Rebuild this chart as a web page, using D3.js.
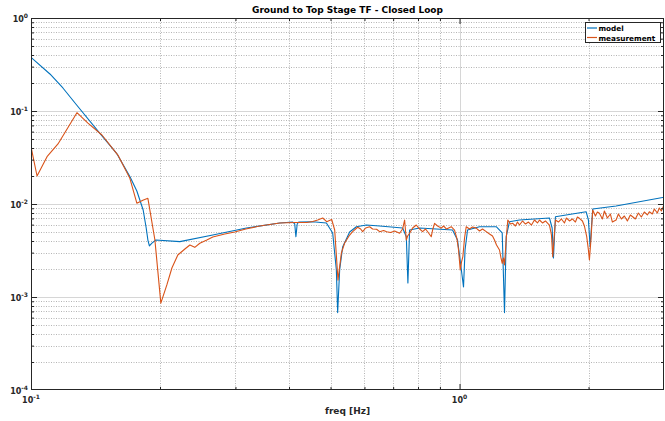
<!DOCTYPE html>
<html>
<head>
<meta charset="utf-8">
<script src="https://cdn.jsdelivr.net/npm/d3@7"></script>
<style>
  body { margin: 0; background: #fff; }
  svg { font-family: "DejaVu Sans", sans-serif; }
</style>
</head>
<body>
<svg id="chart" width="665" height="421"></svg>
<script>
// model (blue) - frequency [Hz] and magnitude
var freqModel = [0.100, 0.1107, 0.1187, 0.1278, 0.1448, 0.1584, 0.1701, 0.1766, 0.1827, 0.1857,
  0.1874, 0.1889, 0.1915, 0.1956, 0.2225, 0.2656, 0.3183, 0.3806, 0.4081, 0.4125,
  0.4151, 0.4180, 0.4214, 0.4543, 0.4890, 0.5058, 0.5159, 0.5195, 0.5251, 0.5336,
  0.5541, 0.5744, 0.6061, 0.6509, 0.7364, 0.7513, 0.7577, 0.7647, 0.8068, 0.8824,
  0.9631, 0.9893, 1.0146, 1.0216, 1.0300, 1.0439, 1.1134, 1.2178, 1.2577, 1.2733,
  1.2850, 1.3078, 1.3800, 1.6212, 1.6447, 1.6563, 1.6741, 1.7731, 1.9740, 1.9987,
  2.0170, 2.0455, 2.3191, 3.0];
var magModel = [0.378, 0.250, 0.1768, 0.116, 0.0576, 0.0351, 0.0197, 0.0138, 0.00862, 0.00552,
  0.0041, 0.00354, 0.0038, 0.0041, 0.00394, 0.00464, 0.00552, 0.00625, 0.0064, 0.0061,
  0.00445, 0.0061, 0.0064, 0.00645, 0.00625, 0.00488, 0.00195, 0.00068, 0.00195, 0.00345,
  0.0050, 0.0057, 0.00594, 0.0058, 0.00552, 0.00445, 0.001414, 0.00525, 0.00552, 0.00538,
  0.00525, 0.0041, 0.00165, 0.00128, 0.0032, 0.00525, 0.0057, 0.0057, 0.00488, 0.00068,
  0.00445, 0.00645, 0.00673, 0.00707, 0.00552, 0.00263, 0.0073, 0.00762, 0.00826, 0.00673,
  0.00347, 0.00884, 0.0095, 0.0118];

// measurement (orange)
var freqMeas = [0.1000, 0.1033, 0.1090, 0.1156, 0.1280, 0.1358, 0.1464, 0.1595, 0.1701, 0.1766,
  0.1824, 0.1874, 0.1946, 0.2009, 0.2075, 0.2132, 0.2201, 0.2286, 0.2348, 0.2411,
  0.2477, 0.2572, 0.2656, 0.2833, 0.2989, 0.3171, 0.3418, 0.3806, 0.4125, 0.4399,
  0.4543, 0.4667, 0.4794, 0.4898, 0.5031, 0.5113, 0.5204, 0.5300, 0.5394, 0.5541,
  0.5631, 0.5784, 0.5878, 0.5941, 0.6038, 0.6169, 0.6269, 0.6405, 0.6509, 0.6651,
  0.6759, 0.6905, 0.7055, 0.7247, 0.7364, 0.7444, 0.7513, 0.7565, 0.7647, 0.7771,
  0.7927, 0.8025, 0.8199, 0.8332, 0.8468, 0.8591, 0.8652, 0.8745, 0.8887, 0.9064,
  0.9178, 0.9326, 0.9564, 0.9735, 0.9857, 0.9947, 1.0038, 1.0109, 1.0180, 1.0273,
  1.0367, 1.0552, 1.0723, 1.0939, 1.1134, 1.1315, 1.1542, 1.1748, 1.1939, 1.2067,
  1.2198, 1.2396, 1.2496, 1.2577, 1.2665, 1.2733, 1.2802, 1.2871, 1.2961, 1.3150,
  1.3313, 1.3507, 1.3653, 1.3800, 1.4024, 1.4252, 1.4484, 1.4719, 1.4957, 1.5200,
  1.5365, 1.5614, 1.5868, 1.6125, 1.6212, 1.6387, 1.6500, 1.6608, 1.6741, 1.7013,
  1.7289, 1.7570, 1.7760, 1.8049, 1.8341, 1.8639, 1.8840, 1.9044, 1.9353, 1.9562,
  1.9806, 1.9987, 2.0094, 2.0257, 2.0455, 2.0752, 2.0977, 2.1204, 2.1548, 2.1780,
  2.2133, 2.2492, 2.2736, 2.3191, 2.3480, 2.3861, 2.4248, 2.4641, 2.5040, 2.5350,
  2.5720, 2.6137, 2.6561, 2.6992, 2.7430, 2.7728, 2.8178, 2.8481, 2.8943, 2.9254,
  2.9571, 3.0];
var magMeas = [0.0413, 0.0200, 0.0323, 0.0442, 0.0959, 0.0741, 0.0552, 0.0336, 0.0189, 0.0102,
  0.0110, 0.0115, 0.0041, 0.00086, 0.00135, 0.00205, 0.00283, 0.00328, 0.00362, 0.00342,
  0.00378, 0.0041, 0.00442, 0.00476, 0.0050, 0.00538, 0.0058, 0.00625, 0.00632, 0.00632,
  0.00648, 0.00673, 0.00707, 0.00645, 0.00681, 0.00525, 0.00152, 0.00297, 0.00381, 0.00464,
  0.00504, 0.00562, 0.00538, 0.00504, 0.00552, 0.0057, 0.00538, 0.00535, 0.00504, 0.00519,
  0.00504, 0.00494, 0.00513, 0.00484, 0.00538, 0.00673, 0.0041, 0.00453, 0.00484, 0.00552,
  0.00594, 0.00552, 0.00504, 0.00538, 0.00488, 0.00445, 0.00525, 0.0062, 0.0058, 0.0055,
  0.0058, 0.00538, 0.0057, 0.00525, 0.00428, 0.0032, 0.00195, 0.00238, 0.00271, 0.00431,
  0.0057, 0.00538, 0.00566, 0.0055, 0.00513, 0.00538, 0.00504, 0.00476, 0.00453, 0.0041,
  0.00362, 0.0032, 0.00263, 0.0023, 0.00263, 0.00221, 0.0032, 0.00464, 0.00673, 0.00609,
  0.0062, 0.0058, 0.0064, 0.00594, 0.00657, 0.00609, 0.0064, 0.00594, 0.00673, 0.00625,
  0.00673, 0.00625, 0.00657, 0.00609, 0.00594, 0.00464, 0.00271, 0.0041, 0.00673, 0.0064,
  0.0069, 0.00625, 0.00707, 0.00657, 0.0069, 0.0064, 0.00725, 0.00702, 0.00657, 0.0058,
  0.00445, 0.0032, 0.0025, 0.0041, 0.00862, 0.00743, 0.0082, 0.00794, 0.0069, 0.00841,
  0.00707, 0.0078, 0.0064, 0.00673, 0.0078, 0.0069, 0.00743, 0.00657, 0.00762, 0.0073,
  0.0069, 0.008, 0.00725, 0.0082, 0.00762, 0.00826, 0.0078, 0.00884, 0.008, 0.00906,
  0.00841, 0.00975];

var xTickValues = [0.1, 1];
var yTickValues = [1e-4, 1e-3, 1e-2, 1e-1, 1];
var seriesNames = ["model", "measurement"];
var seriesColors = ["#0072BD", "#D95319"];

var width = 665;
var height = 421;
var plotLeft = 31, plotRight = 664, plotTop = 18, plotBottom = 390;

var svg = d3.select("#chart");

var xScale = d3.scaleLog().domain([0.1, 3]).range([plotLeft, plotRight]);
var yScale = d3.scaleLog().domain([1e-4, 1]).range([plotBottom, plotTop]);

function isDecade(d) {
  var l = Math.log10(d);
  return Math.abs(l - Math.round(l)) < 1e-9;
}

var xMinor = xScale.ticks().filter(d => !isDecade(d) && d < 3);
var yMinor = yScale.ticks().filter(d => !isDecade(d));
var xMajorInner = xTickValues.filter(d => d > 0.1 && d < 3);
var yMajorInner = yTickValues.filter(d => d > 1e-4 && d < 1);

// grid
var grid = svg.append("g");
grid.selectAll(".vmin").data(xMinor).join("line")
    .attr("x1", d => Math.round(xScale(d)) + 0.5).attr("x2", d => Math.round(xScale(d)) + 0.5)
    .attr("y1", plotTop).attr("y2", plotBottom)
    .attr("stroke", "#b5b5b5").attr("stroke-dasharray", "1,1.5");
grid.selectAll(".hmin").data(yMinor).join("line")
    .attr("y1", d => Math.round(yScale(d)) + 0.5).attr("y2", d => Math.round(yScale(d)) + 0.5)
    .attr("x1", plotLeft).attr("x2", plotRight)
    .attr("stroke", "#b5b5b5").attr("stroke-dasharray", "1,1.5");
grid.selectAll(".vmaj").data(xMajorInner).join("line")
    .attr("x1", d => Math.round(xScale(d)) + 0.5).attr("x2", d => Math.round(xScale(d)) + 0.5)
    .attr("y1", plotTop).attr("y2", plotBottom)
    .attr("stroke", "#d6d6d6");
grid.selectAll(".hmaj").data(yMajorInner).join("line")
    .attr("y1", d => Math.round(yScale(d)) + 0.5).attr("y2", d => Math.round(yScale(d)) + 0.5)
    .attr("x1", plotLeft).attr("x2", plotRight)
    .attr("stroke", "#d6d6d6");

// data
svg.append("clipPath").attr("id", "clip")
  .append("rect").attr("x", plotLeft).attr("y", plotTop)
  .attr("width", plotRight - plotLeft).attr("height", plotBottom - plotTop);

var line = d3.line()
    .x(d => xScale(d[0]))
    .y(d => yScale(d[1]));

var series = [d3.zip(freqModel, magModel), d3.zip(freqMeas, magMeas)];

svg.append("g").attr("clip-path", "url(#clip)")
  .selectAll("path")
  .data(series)
  .join("path")
    .attr("d", line)
    .attr("fill", "none")
    .attr("stroke", (d, i) => seriesColors[i])
    .attr("stroke-width", 1.1)
    .attr("stroke-linejoin", "round");

// axes (ticks inward on all four sides)
var axisColor = "#262626";
function styleAxis(g) {
  g.select(".domain").remove();
  g.selectAll(".tick line").attr("stroke", axisColor);
  g.selectAll(".tick text").remove();
}
svg.append("g").attr("transform", "translate(0," + plotBottom + ")")
  .call(d3.axisBottom(xScale).tickValues(xMinor).tickSize(-3)).call(styleAxis);
svg.append("g").attr("transform", "translate(0," + plotBottom + ")")
  .call(d3.axisBottom(xScale).tickValues(xMajorInner).tickSize(-6)).call(styleAxis);
svg.append("g").attr("transform", "translate(0," + plotTop + ")")
  .call(d3.axisTop(xScale).tickValues(xMinor).tickSize(-3)).call(styleAxis);
svg.append("g").attr("transform", "translate(0," + plotTop + ")")
  .call(d3.axisTop(xScale).tickValues(xMajorInner).tickSize(-6)).call(styleAxis);
svg.append("g").attr("transform", "translate(" + plotLeft + ",0)")
  .call(d3.axisLeft(yScale).tickValues(yMinor).tickSize(-3)).call(styleAxis);
svg.append("g").attr("transform", "translate(" + plotLeft + ",0)")
  .call(d3.axisLeft(yScale).tickValues(yMajorInner).tickSize(-6)).call(styleAxis);
svg.append("g").attr("transform", "translate(" + plotRight + ",0)")
  .call(d3.axisRight(yScale).tickValues(yMinor).tickSize(-3)).call(styleAxis);
svg.append("g").attr("transform", "translate(" + plotRight + ",0)")
  .call(d3.axisRight(yScale).tickValues(yMajorInner).tickSize(-6)).call(styleAxis);

svg.append("rect")
  .attr("x", plotLeft + 0.5).attr("y", plotTop + 0.5)
  .attr("width", plotRight - plotLeft - 1).attr("height", plotBottom - plotTop - 1)
  .attr("fill", "none").attr("stroke", axisColor);

// tick labels  10^n
function powLabel(sel, d) {
  var e = Math.round(Math.log10(d));
  sel.append("tspan").text("10");
  sel.append("tspan").attr("dy", -4).attr("font-size", "6px").text(e);
}

svg.append("g")
  .selectAll("text")
  .data(xTickValues)
  .join("text")
    .attr("x", d => xScale(d))
    .attr("y", 403)
    .attr("text-anchor", "middle")
    .attr("font-size", "8px")
    .attr("font-weight", "bold")
    .attr("fill", axisColor)
    .each(function(d) { powLabel(d3.select(this), d); });

svg.append("g")
  .selectAll("text")
  .data(yTickValues)
  .join("text")
    .attr("x", 28)
    .attr("y", d => yScale(d) + 3.5)
    .attr("text-anchor", "end")
    .attr("font-size", "8px")
    .attr("font-weight", "bold")
    .attr("fill", axisColor)
    .each(function(d) { powLabel(d3.select(this), d); });

// title and label
svg.append("text")
  .attr("x", (plotLeft + plotRight) / 2)
  .attr("y", 13)
  .attr("text-anchor", "middle")
  .attr("font-size", "9px")
  .attr("font-weight", "bold")
  .attr("fill", "#000")
  .text("Ground to Top Stage TF - Closed Loop");

svg.append("text")
  .attr("x", (plotLeft + plotRight) / 2)
  .attr("y", 414)
  .attr("text-anchor", "middle")
  .attr("font-size", "9px")
  .attr("font-weight", "bold")
  .attr("fill", axisColor)
  .text("freq [Hz]");

// legend
var legend = svg.append("g");
legend.append("rect")
  .attr("x", 585.5).attr("y", 22.5).attr("width", 75).attr("height", 20)
  .attr("fill", "#fff").attr("stroke", axisColor);
var items = legend.selectAll(".item").data(seriesNames).join("g")
  .attr("transform", (d, i) => "translate(0," + (28 + i * 9.5) + ")");
items.append("line")
  .attr("x1", 587).attr("x2", 597)
  .attr("stroke", (d, i) => seriesColors[i]).attr("stroke-width", 1.2);
items.append("text")
  .attr("x", 598.5).attr("y", 3)
  .attr("font-size", "7.3px")
  .attr("font-weight", "bold")
  .attr("fill", "#000")
  .text(d => d);
</script>
</body>
</html>
